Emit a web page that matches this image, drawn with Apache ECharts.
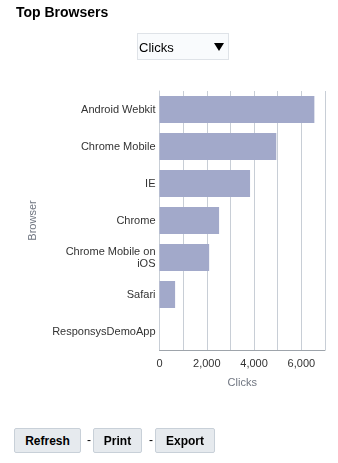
<!DOCTYPE html>
<html><head><meta charset="utf-8">
<script src="https://cdn.jsdelivr.net/npm/echarts@6/dist/echarts.min.js"></script>
<style>
html,body{margin:0;padding:0;background:#fff;width:338px;height:463px;overflow:hidden;font-family:Arial,"Liberation Sans",sans-serif;}
#title{position:absolute;left:16px;top:4px;font-size:14px;font-weight:bold;color:#000;}
#sel{position:absolute;left:137px;top:33px;width:90px;height:25px;border:1px solid #dfe3e8;background:#f9fbfd;box-sizing:content-box;}
#sel span.t{position:absolute;left:1px;top:6px;font-size:13px;color:#000;}
#sel span.a{position:absolute;right:4px;top:9px;width:0;height:0;border-left:5px solid transparent;border-right:5px solid transparent;border-top:8px solid #000;}
#chart{position:absolute;left:0;top:0;width:338px;height:463px;}
.btn{position:absolute;top:428px;height:25px;border:1px solid #c8d0d8;background:#e6eaee;border-radius:2px;font-size:12px;font-weight:bold;color:#000;line-height:24px;text-align:center;box-sizing:border-box;}
.dash{position:absolute;top:433px;font-size:12px;color:#000;}
</style></head>
<body>
<div id="chart"></div>
<div id="title">Top Browsers</div>
<div id="sel"><span class="t">Clicks</span><span class="a"></span></div>
<div class="btn" style="left:14px;width:67px;">Refresh</div>
<div class="dash" style="left:87px;">-</div>
<div class="btn" style="left:93px;width:49px;">Print</div>
<div class="dash" style="left:149px;">-</div>
<div class="btn" style="left:155px;width:60px;">Export</div>
<script>
var categories = ["Android Webkit","Chrome Mobile","IE","Chrome","Chrome Mobile on iOS","Safari","ResponsysDemoApp"];
var clicks = [6550,4940,3830,2520,2100,660,0];
var xTickLabels = ["0","2,000","4,000","6,000"];
function wrap(s){
  var words=s.split(' '),lines=[],cur='';
  words.forEach(function(w){
    if(cur && (cur+' '+w).length>16){lines.push(cur);cur=w;}
    else cur=cur?cur+' '+w:w;
  });
  lines.push(cur);return lines.join('\n');
}
var chart = echarts.init(document.getElementById('chart'));
chart.setOption({
  animation:false,
  grid:{left:159.5,right:13,top:91,bottom:113,containLabel:false},
  xAxis:{type:'value',min:0,max:7000,interval:1000,
    name:'Clicks',nameLocation:'middle',nameGap:27,
    nameTextStyle:{color:'#6f7580',fontSize:11,fontFamily:'Arial'},
    axisLine:{show:true,lineStyle:{color:'#9ea4ab',width:1}},
    axisTick:{show:false},
    splitLine:{show:true,lineStyle:{color:'#c8ced6',width:1}},
    axisLabel:{color:'#333',fontSize:11,fontFamily:'Arial',margin:8,
      formatter:function(v){var i=xTickLabels.indexOf(v.toLocaleString('en-US'));return i>=0?xTickLabels[i]:'';}}
  },
  yAxis:{type:'category',data:categories,inverse:true,
    name:'Browser',nameLocation:'middle',nameGap:121,nameRotate:90,
    nameTextStyle:{color:'#6f7580',fontSize:11,fontFamily:'Arial'},
    axisLine:{show:true,lineStyle:{color:'#c8ced6'}},
    axisTick:{show:false},
    axisLabel:{color:'#333',fontSize:11,fontFamily:'Arial',margin:4,lineHeight:12,formatter:wrap}
  },
  series:[{type:'bar',data:clicks,barWidth:27,itemStyle:{color:'#a2a9ca'}}]
});
</script>
</body></html>
